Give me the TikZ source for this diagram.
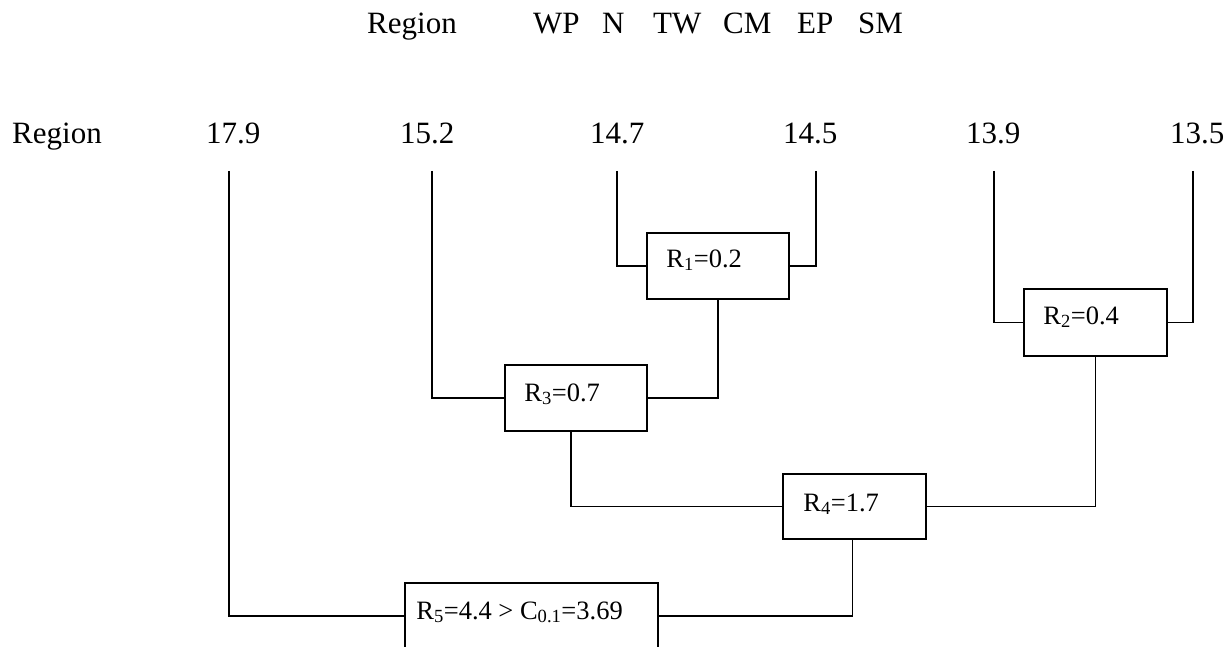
\documentclass[tikz,border=0pt]{standalone}
\usepackage{fontspec}
\setmainfont{Liberation Serif}
\begin{document}
\begin{tikzpicture}[x=1pt,y=-1pt,
  link/.style={line width=1.7pt},
  box/.style={draw, line width=1.7pt, inner sep=0pt, fill=white},
  head/.style={font=\fontsize{31}{36}\selectfont, anchor=base west, inner sep=0pt},
  lab/.style={font=\fontsize{26.5}{30}\selectfont, anchor=base west, inner sep=0pt}]
\useasboundingbox (0,0) rectangle (1227,647);
\clip (0,0) rectangle (1227,647);

% header line
\node[head] (h0) at (367,34) {Region};
\node[head] (h1) at (533,34) {WP};
\node[head] (h2) at (602,34) {N};
\node[head] (h3) at (653,34) {TW};
\node[head] (h4) at (723,34) {CM};
\node[head] (h5) at (797,34) {EP};
\node[head] (h6) at (858,34) {SM};

% leaf values
\node[head] (r0) at (12,144) {Region};
\node[head] (v1) at (206,144) {17.9};
\node[head] (v2) at (400,144) {15.2};
\node[head] (v3) at (590,144) {14.7};
\node[head] (v4) at (783,144) {14.5};
\node[head] (v5) at (966,144) {13.9};
\node[head] (v6) at (1170,144) {13.5};

% tops of the leaf lines
\coordinate (l1) at (229,171);
\coordinate (l2) at (432,171);
\coordinate (l3) at (617,171);
\coordinate (l4) at (816,171);
\coordinate (l5) at (994,171);
\coordinate (l6) at (1193,171);

% merge boxes
\node[box, minimum width=142pt, minimum height=66pt] (b1) at (718,266) {};
\node[box, minimum width=143pt, minimum height=67pt] (b2) at (1095.5,322.5) {};
\node[box, minimum width=142pt, minimum height=66pt] (b3) at (576,398) {};
\node[box, minimum width=143pt, minimum height=65pt] (b4) at (854.5,506.5) {};
\node[box, minimum width=253pt, minimum height=66pt] (b5) at (531.5,616) {};

\node[lab] (t1) at ([shift={(20,35)}]b1.north west) {R\textsubscript{1}=0.2};
\node[lab] (t2) at ([shift={(20,36)}]b2.north west) {R\textsubscript{2}=0.4};
\node[lab] (t3) at ([shift={(20,37)}]b3.north west) {R\textsubscript{3}=0.7};
\node[lab] (t4) at ([shift={(21,38)}]b4.north west) {R\textsubscript{4}=1.7};
\node[lab] (t5) at ([shift={(12,37)}]b5.north west) {R\textsubscript{5}=4.4 > C\textsubscript{0.1}=3.69};

% connectors
\draw[link] (l3) |- (b1.west);
\draw[link] (l4) |- (b1.east);
\draw[link] (l5) |- (b2.west);
\draw[link] (l6) |- (b2.east);
\draw[link] (l2) |- (b3.west);
\draw[link] (b1.south) |- (b3.east);
\draw[link] ([xshift=-5pt]b3.south) |- (b4.west);
\draw[link] (b2.south) |- (b4.east);
\draw[link] (l1) |- (b5.west);
\draw[link] ([xshift=-2pt]b4.south) |- (b5.east);
\end{tikzpicture}
\end{document}
